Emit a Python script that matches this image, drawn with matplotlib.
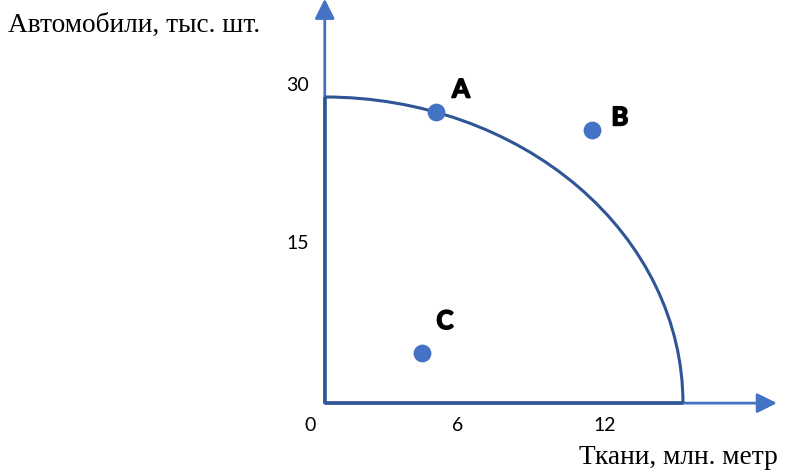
import matplotlib.pyplot as plt
import matplotlib.patheffects as pe
from matplotlib.patches import Arc

# data
ticks_x = [0, 6, 12]
ticks_y = [15, 30]
ppf_x_max = 15.16   # fabric at zero cars
ppf_y_max = 28.87   # cars at zero fabric
point_names = ['A', 'B', 'C']
point_x = [5.12, 11.46, 4.55]
point_y = [27.4, 25.7, 4.56]

axis_col = '#4472C4'
ppf_col = '#2F5597'

# pixel -> data mapping of the drawing
px0, sx = 310, 24.6
py0, sy = 401, 10.53

fig = plt.figure(figsize=(7.96, 4.70), dpi=100)
ax = fig.add_axes([0, 0, 1, 1])
ax.set_xlim(-px0 / sx, (796 - px0) / sx)
ax.set_ylim((py0 - 470) / sy, py0 / sy)
ax.axis('off')

ox, oy = 0.6, -0.2   # where the drawn axes cross

# axes with arrows
arr = dict(arrowstyle='-|>,head_length=0.6,head_width=0.3', color=axis_col,
           lw=2, mutation_scale=20, shrinkA=0, shrinkB=0)
ax.annotate('', xy=(18.98, oy), xytext=(ox, oy), arrowprops=arr,
            annotation_clip=False)
ax.annotate('', xy=(ox, 38.2), xytext=(ox, oy), arrowprops=arr,
            annotation_clip=False)

# production possibility frontier
ax.add_patch(Arc((ox, oy), 2 * (ppf_x_max - ox), 2 * (ppf_y_max - oy),
                 theta1=0, theta2=90, color=ppf_col, lw=2.2, zorder=3))
ax.plot([ox, ox], [oy, ppf_y_max], color=ppf_col, lw=2.6, zorder=3,
        solid_capstyle='butt')
ax.plot([ox, ppf_x_max], [oy, oy], color=ppf_col, lw=2.6, zorder=3,
        solid_capstyle='butt')

# points
ax.plot(point_x, point_y, 'o', color=axis_col, ms=11.8, zorder=4)
offsets = [(25, 23), (28, 13), (23, 32)]
for n, x, y, off in zip(point_names, point_x, point_y, offsets):
    ax.annotate(n, (x, y), xytext=off, textcoords='offset pixels',
                ha='center', va='center', fontsize=18.5, fontweight='bold',
                family='Lato',
                path_effects=[pe.withStroke(linewidth=1.2, foreground='black')])

# tick labels
for t in ticks_x:
    ax.text(t, -2.28, str(t), ha='center', va='center', fontsize=14,
            family='Lato')
for t in ticks_y:
    ax.text(-0.49, t, str(t), ha='center', va='center', fontsize=14,
            family='Lato')

# axis titles
ax.text(-12.28, 35.7, 'Автомобили, тыс. шт.', ha='left', va='center',
        fontsize=19.7, family='Liberation Serif')
ax.text(19.02, -5.41, 'Ткани, млн. метр', ha='right', va='center',
        fontsize=19.7, family='Liberation Serif')

fig.savefig('out.png', dpi=100)
